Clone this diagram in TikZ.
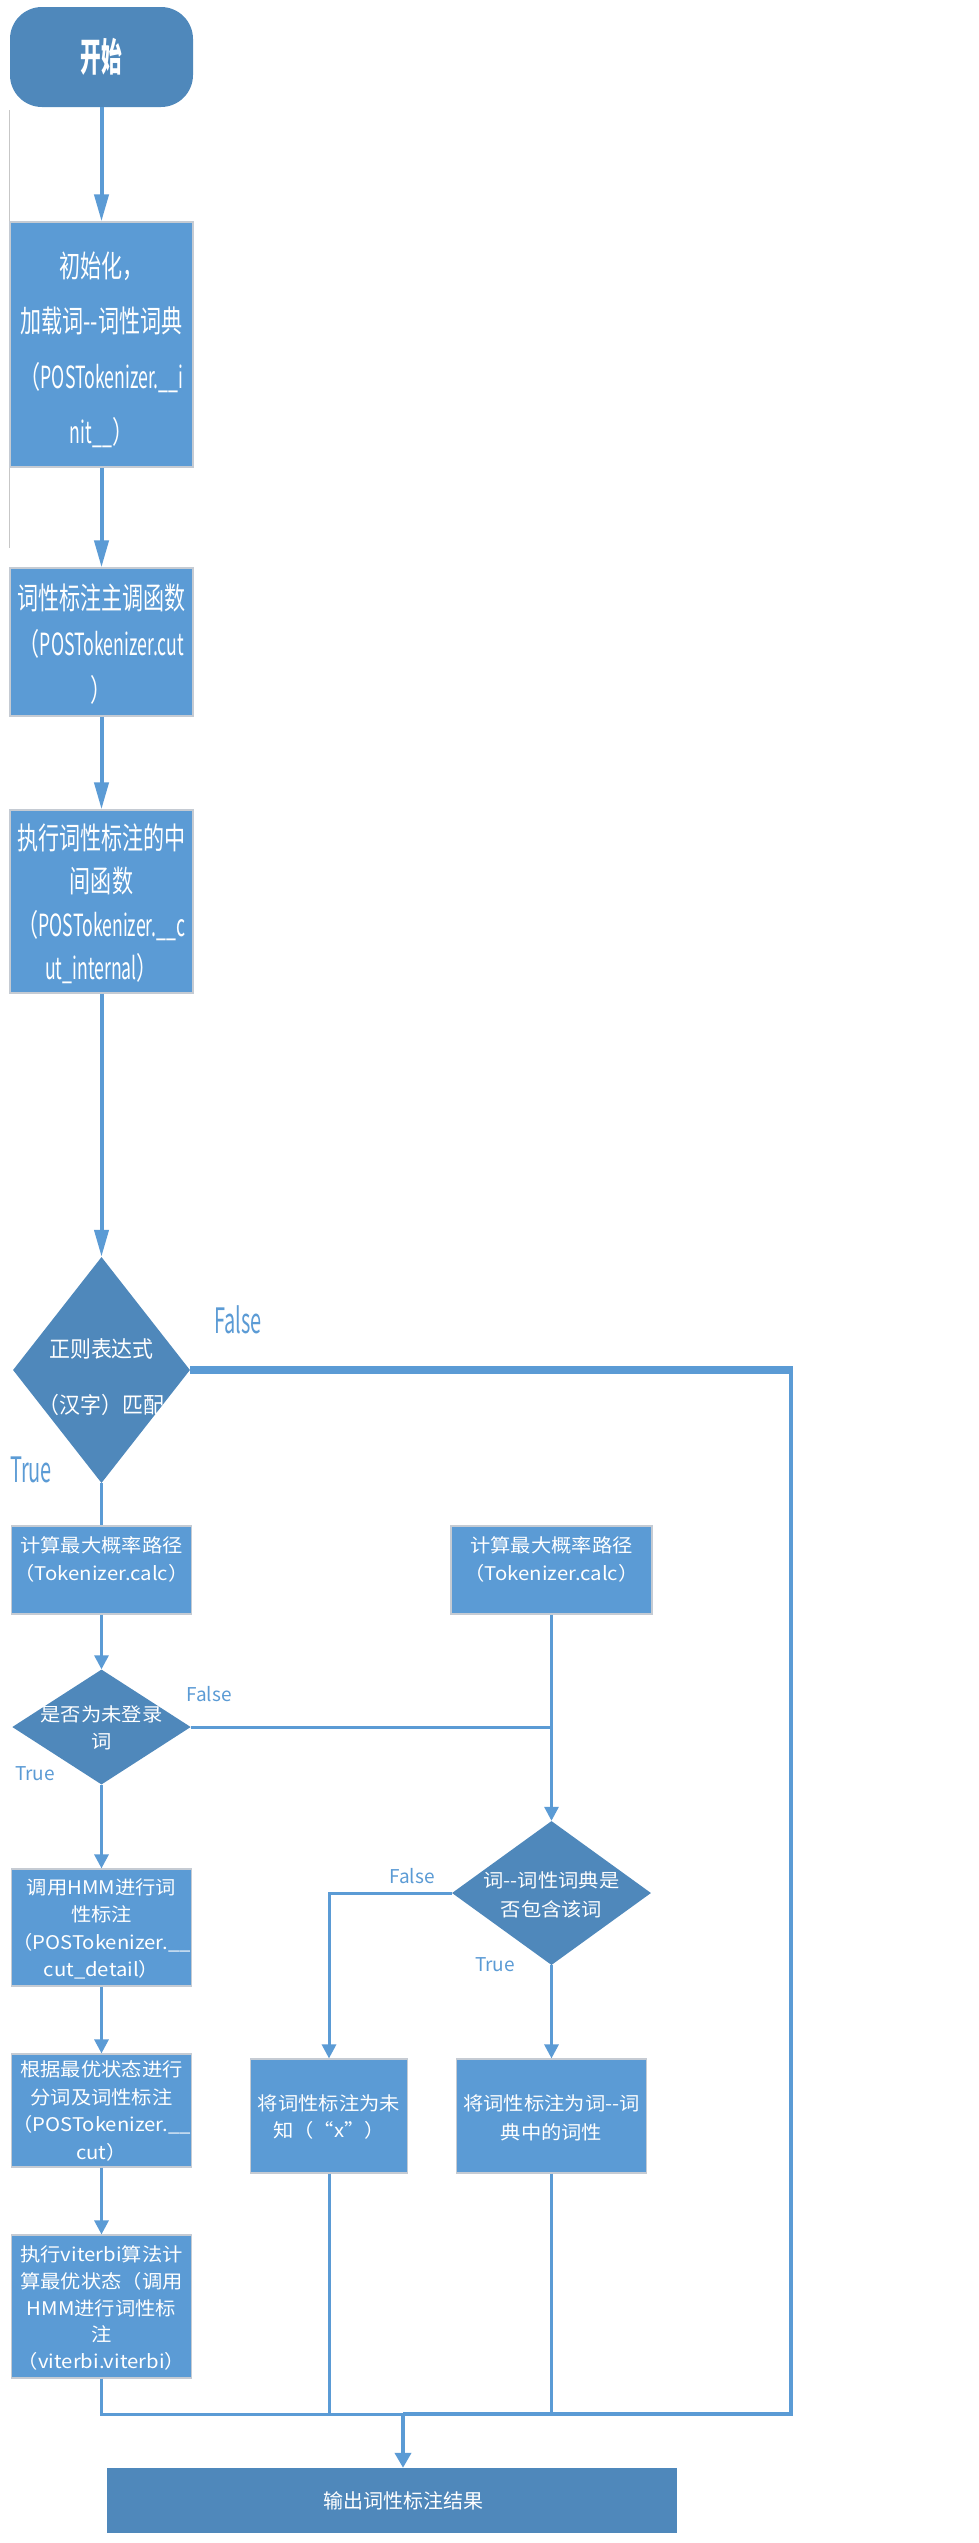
\documentclass[tikz,border=0pt]{standalone}
\usepackage{fontspec}
\usetikzlibrary{shapes.geometric,arrows.meta}
\newfontfamily\fA[FakeStretch=0.53]{Noto Sans CJK SC}
\newfontfamily\fB[FakeStretch=0.69]{Noto Sans CJK SC}
\newfontfamily\fBL[FakeStretch=0.58]{Noto Sans CJK SC}
\newfontfamily\fC[FakeStretch=0.57]{Noto Sans CJK SC}
\newfontfamily\fD[FakeStretch=1.0]{Noto Sans CJK SC}
\newfontfamily\fDD[FakeStretch=0.93]{Noto Sans CJK SC}
\newfontfamily\fE[FakeStretch=1.08]{Noto Sans CJK SC}
\newcommand\dd{\mbox{-}\mbox{-}}
\newcommand\latn[1]{{\fBL #1}}
\definecolor{lb}{HTML}{5B9BD5}
\definecolor{db}{HTML}{4F88BB}
\definecolor{bd}{HTML}{C5CBD3}
\tikzset{
  box/.style={rectangle, fill=lb, draw=bd, line width=1.2pt, inner sep=0pt},
  darkbox/.style={rectangle, fill=db, draw=none, inner sep=0pt},
  diam/.style={diamond, fill=db, draw=none, inner sep=0pt},
  txt/.style={text=white, align=center, inner sep=0pt},
  tA/.style={txt, font=\fA\bfseries\fontsize{39}{42}\selectfont},
  tB/.style={txt, font=\fB\fontsize{30.5}{#1}\selectfont},
  tD/.style={txt, font=\fD\fontsize{20}{#1}\selectfont},
  tDD/.style={txt, font=\fDD\fontsize{22.5}{#1}\selectfont},
  tE/.style={txt, font=\fE\fontsize{18.8}{#1}\selectfont},
  bigtag/.style={text=lb, inner sep=0pt, font=\fC\fontsize{35}{40}\selectfont},
  smalltag/.style={text=lb, inner sep=0pt, font=\fD\fontsize{19}{22}\selectfont},
  conn/.style={draw=lb, line width=3pt},
  bigarr/.style={draw=lb, line width=4pt, -{Triangle[length=27pt,width=14pt]}},
  smallarr/.style={conn, -{Triangle[length=14pt,width=14pt]}},
  finalarr/.style={draw=lb, line width=4.5pt, -{Triangle[length=15pt,width=16pt]}},
}
\begin{document}
\begin{tikzpicture}[x=1pt,y=-1pt]
\useasboundingbox (0,0) rectangle (979,2543);
\fill[white] (0,0) rectangle (979,2543);
\draw[black!22, line width=1pt] (9,110) -- (9,548);

% upper column
\node[darkbox, rounded corners=32pt, minimum width=183, minimum height=100] (st) at (101.5,57) {};
\node[tA] (tst) at (st) {开始};

\node[box, minimum width=183, minimum height=245] (b1) at (101.5,344.5) {};
\node[tB=55.5] (t1) at (101.5,350) {初始化，\\加载词\dd 词性词典\\（\latn{POSTokenizer.\_\_i}\\\latn{nit\_\_}）};

\node[box, minimum width=183, minimum height=148] (b2) at (101.5,642) {};
\node[tB=46] (t2) at (101.5,644) {词性标注主调函数\\（\latn{POSTokenizer.cut}\\）};

\node[box, minimum width=183, minimum height=183] (b3) at (101.5,901.5) {};
\node[tB=43.5] (t3) at (101.5,904) {执行词性标注的中\\间函数\\（\latn{POSTokenizer.\_\_c}\\\latn{ut\_internal}）};

\node[diam, minimum width=177, minimum height=226] (d1) at (101.5,1370) {};
\node[tDD=56] (td1) at (101.5,1377) {正则表达式\\（汉字）匹配};

% lower left column
\node[box, minimum width=179.5, minimum height=88] (b4) at (101.5,1570) {};
\node[tE=28] (t4) at (101.5,1559) {计算最大概率路径\\（Tokenizer.calc）};

\node[diam, minimum width=178.5, minimum height=115] (d2) at (101.5,1727) {};
\node[tE=27] (td2) at (101.5,1728) {是否为未登录\\词};

\node[box, minimum width=179.5, minimum height=117] (b6) at (101.5,1927.5) {};
\node[tE=27.5] (t6) at (101.5,1929) {调用HMM进行词\\性标注\\（POSTokenizer.\_\_\\cut\_detail）};

\node[box, minimum width=179.5, minimum height=113] (b7) at (101.5,2110.5) {};
\node[tE=27.5] (t7) at (101.5,2111) {根据最优状态进行\\分词及词性标注\\（POSTokenizer.\_\_\\cut）};

\node[box, minimum width=179.5, minimum height=143] (b10) at (101.5,2306.5) {};
\node[tE=26.8] (t10) at (101.5,2308) {执行viterbi算法计\\算最优状态（调用\\HMM进行词性标\\注\\（viterbi.viterbi）};

% right part
\node[box, minimum width=201, minimum height=88] (b5) at (551.5,1570) {};
\node[tE=28] (t5) at (551.5,1559) {计算最大概率路径\\（Tokenizer.calc）};

\node[diam, minimum width=199, minimum height=144] (d3) at (551.5,1893) {};
\node[tE=29] (td3) at (551.5,1895) {词\dd 词性词典是\\否包含该词};

\node[box, minimum width=157.5, minimum height=114] (b8) at (329,2116) {};
\node[tE=27.5] (t8) at (329,2117) {将词性标注为未\\知（“x”）};

\node[box, minimum width=190, minimum height=114] (b9) at (551.5,2116) {};
\node[tE=29] (t9) at (551.5,2118) {将词性标注为词\dd 词\\典中的词性};

\node[darkbox, minimum width=569.5, minimum height=65] (out) at (392,2500.5) {};
\node[tD=24] (tout) at (403,2501) {输出词性标注结果};

% tags
\node[bigtag] (f1) at (238,1320) {False};
\node[bigtag] (tr1) at (31,1470) {True};
\node[smalltag] (f2) at (209,1694) {False};
\node[smalltag] (tr2) at (35,1774) {True};
\node[smalltag] (f3) at (412,1876) {False};
\node[smalltag] (tr3) at (495,1965) {True};

% coordinates
\coordinate (fr) at (793,1370);
\coordinate (frv) at (791,1370);
\coordinate (mr) at (791,2414);
\coordinate (mg) at (403,2414);

% connectors
\draw[bigarr] (st) -- (b1);
\draw[bigarr] (b1) -- (b2);
\draw[bigarr] (b2) -- (b3);
\draw[bigarr] (b3) -- (d1);
\draw[conn] (d1) -- (b4);
\draw[draw=lb, line width=8pt] (d1.east) -- (fr);
\draw[draw=lb, line width=4pt] (frv) -- (mr) -- (mg);
\draw[smallarr] (b4) -- (d2);
\draw[conn] (d2.east) -- (d2.east -| b5);
\draw[smallarr] (b5) -- (d3);
\draw[smallarr] (d2) -- (b6);
\draw[smallarr] (b6) -- (b7);
\draw[smallarr] (b7) -- (b10);
\draw[smallarr] (d3.west) -- (d3.west -| b8) -- (b8);
\draw[smallarr] (d3) -- (b9);
\draw[conn] (b10) -- (b10.south |- mg) -- (mg);
\draw[conn] (b8) -- (b8.south |- mg);
\draw[conn] (b9) -- (b9.south |- mg) -- (mg);
\draw[finalarr] (mg) -- (mg |- out.north);
\end{tikzpicture}
\end{document}
